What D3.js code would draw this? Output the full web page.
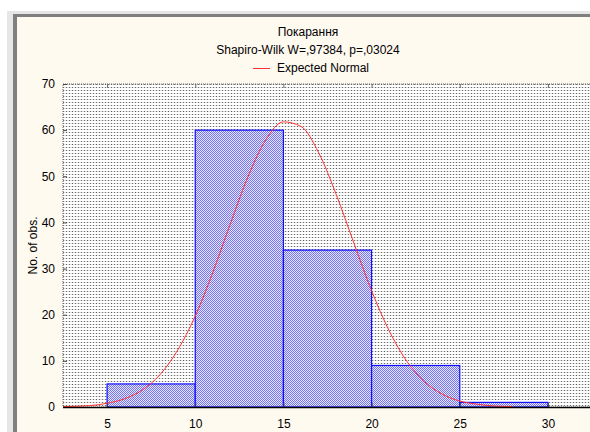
<!DOCTYPE html>
<html>
<head>
<meta charset="utf-8">
<script src="https://cdn.jsdelivr.net/npm/d3@7"></script>
<style>
    body { margin: 0; background: #fff; }
    svg text { font-family: "Liberation Sans", Arial, sans-serif; fill: #000; }
</style>
</head>
<body>
<div id="chart"></div>
<script>
// histogram bins (lower, upper) and counts
const binLow = [5, 10, 15, 20, 25];
const binHigh = [10, 15, 20, 25, 30];
const counts = [5, 60, 34, 9, 1];

// expected normal curve
const curveX = [2.5, 4, 5, 6, 7, 8, 9, 10, 11, 12, 13, 14, 15, 16, 17, 18, 19, 20, 21, 22, 23, 24, 25, 26, 27, 28];
const curveY = [0.1, 0.3, 0.8, 1.8, 3.7, 7.0, 12.3, 19.7, 29.2, 39.8, 50.0, 57.9, 61.8, 60.8, 55.1, 46.0, 35.5, 25.2, 16.5, 9.9, 5.5, 2.8, 1.3, 0.6, 0.2, 0.1];

const xTicks = [5, 10, 15, 20, 25, 30];
const yTicks = [0, 10, 20, 30, 40, 50, 60, 70];

const titleLines = ["Покарання", "Shapiro-Wilk W=,97384, p=,03024"];
const legendLabel = "Expected Normal";
const yTitle = "No. of obs.";

const width = 590, height = 432;
const plot = { left: 63, top: 84, right: 592, bottom: 407 };

const svg = d3.select("#chart").append("svg")
    .attr("width", width)
    .attr("height", height);

// patterns: dotted plot background + checkered bar fill
const defs = svg.append("defs");
let dots = defs.append("pattern").attr("id", "dots")
    .attr("patternUnits", "userSpaceOnUse").attr("width", 3).attr("height", 3);
dots.append("rect").attr("width", 3).attr("height", 3).attr("fill", "#fff");
dots.append("rect").attr("width", 1).attr("height", 1).attr("fill", "#6a6a6a");
dots.append("rect").attr("x", 1).attr("width", 2).attr("height", 1).attr("fill", "#e2e2e2");

let check = defs.append("pattern").attr("id", "check")
    .attr("patternUnits", "userSpaceOnUse").attr("width", 2).attr("height", 2);
check.append("rect").attr("width", 2).attr("height", 2).attr("fill", "#e6e6ff");
check.append("rect").attr("width", 1).attr("height", 1).attr("fill", "#7474f0");
check.append("rect").attr("x", 1).attr("y", 1).attr("width", 1).attr("height", 1).attr("fill", "#7474f0");

// window frame
svg.append("rect").attr("x", 7).attr("y", 11).attr("width", width).attr("height", height)
    .attr("fill", "#e6e6e6");
svg.append("rect").attr("x", 13).attr("y", 14).attr("width", width).attr("height", height)
    .attr("fill", "#7f7f7f");
svg.append("rect").attr("x", 17).attr("y", 17).attr("width", width).attr("height", height)
    .attr("fill", "#fffaf0");

const x = d3.scaleLinear().domain([2.5, 32.5]).range([plot.left, plot.right]);
const y = d3.scaleLinear().domain([0, 70]).range([plot.bottom, plot.top]);

// plot background
svg.append("rect")
    .attr("x", plot.left).attr("y", plot.top)
    .attr("width", plot.right - plot.left).attr("height", plot.bottom - plot.top)
    .attr("fill", "url(#dots)")
    .attr("stroke", "#666")
    .attr("stroke-dasharray", "1,1");

// bars
svg.append("g").selectAll("rect")
    .data(counts)
    .join("rect")
    .attr("x", (d, i) => x(binLow[i]))
    .attr("y", d => y(d))
    .attr("width", (d, i) => x(binHigh[i]) - x(binLow[i]))
    .attr("height", d => y(0) - y(d))
    .attr("fill", "url(#check)")
    .attr("stroke", "#1010ff")
    .attr("stroke-width", 1.2);

// normal curve
const line = d3.line()
    .x((d, i) => x(curveX[i]))
    .y(d => y(d))
    .curve(d3.curveMonotoneX);
svg.append("path")
    .datum(curveY)
    .attr("d", line)
    .attr("fill", "none")
    .attr("stroke", "#ff3030")
    .attr("stroke-width", 1);

// axes
const yAxis = d3.axisLeft(y).tickValues(yTicks).tickSize(-4).tickPadding(8);
svg.append("g")
    .attr("transform", `translate(${plot.left},0)`)
    .call(yAxis)
    .call(g => g.select(".domain").remove())
    .call(g => g.selectAll("line").attr("stroke", "#444"))
    .call(g => g.selectAll("text").attr("font-size", 12).attr("fill", "#000"));

const xAxis = d3.axisBottom(x).tickValues(xTicks).tickSize(-4).tickPadding(12);
svg.append("g")
    .attr("transform", `translate(0,${plot.bottom})`)
    .call(xAxis)
    .call(g => g.select(".domain").remove())
    .call(g => g.selectAll("line").attr("stroke", "#444"))
    .call(g => g.selectAll("text").attr("font-size", 12).attr("fill", "#000"));

// top ticks
svg.append("g")
    .attr("transform", `translate(0,${plot.top})`)
    .call(d3.axisTop(x).tickValues(xTicks).tickSize(-4).tickFormat(""))
    .call(g => g.select(".domain").remove())
    .call(g => g.selectAll("line").attr("stroke", "#666"));

// bottom axis line
svg.append("line")
    .attr("x1", plot.left).attr("x2", plot.right)
    .attr("y1", plot.bottom + 0.5).attr("y2", plot.bottom + 0.5)
    .attr("stroke", "#000").attr("stroke-width", 1.5);

// titles
svg.selectAll(".title")
    .data(titleLines)
    .join("text")
    .attr("class", "title")
    .attr("x", 308)
    .attr("y", (d, i) => 36 + i * 18)
    .attr("text-anchor", "middle")
    .attr("font-size", 12)
    .text(d => d);

// legend
svg.append("line")
    .attr("x1", 253).attr("x2", 270)
    .attr("y1", 68.5).attr("y2", 68.5)
    .attr("stroke", "#ff3030");
svg.append("text")
    .attr("x", 277).attr("y", 72)
    .attr("font-size", 12)
    .text(legendLabel);

// y title
svg.append("text")
    .attr("transform", `translate(37,${(plot.top + plot.bottom) / 2}) rotate(-90)`)
    .attr("text-anchor", "middle")
    .attr("font-size", 12)
    .text(yTitle);
</script>
</body>
</html>
